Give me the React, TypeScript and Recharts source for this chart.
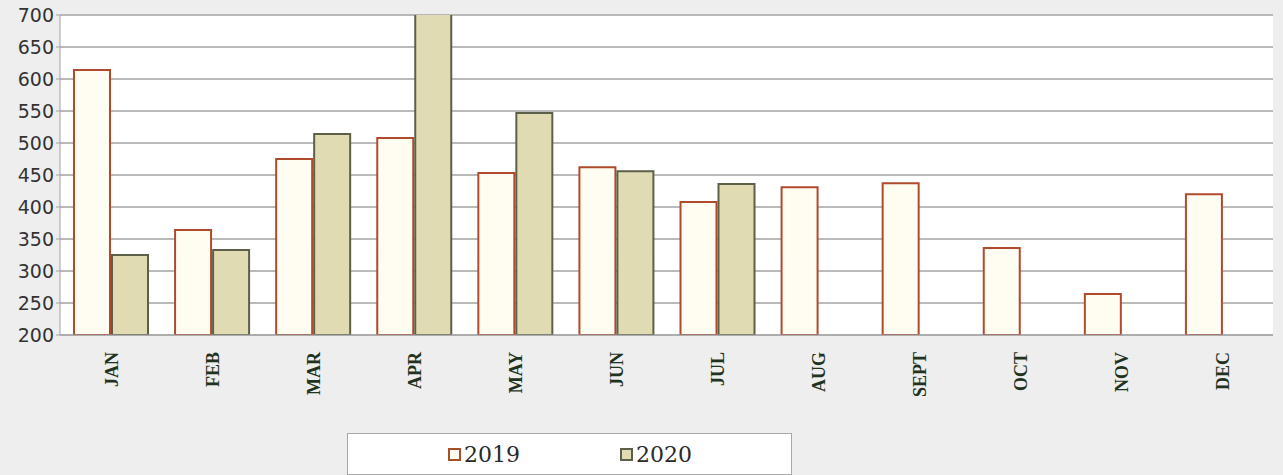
import React from 'react';
import {
  BarChart,
  Bar,
  XAxis,
  YAxis,
  CartesianGrid,
  Legend,
} from 'recharts';

document.body.style.margin = '0';

const MONTHS = ['JAN', 'FEB', 'MAR', 'APR', 'MAY', 'JUN', 'JUL', 'AUG', 'SEPT', 'OCT', 'NOV', 'DEC'];
const SALES_2019 = [614, 364, 475, 508, 453, 462, 408, 431, 437, 336, 264, 420];
const SALES_2020 = [325, 333, 514, 720, 547, 456, 436, null, null, null, null, null];
const Y_TICKS = [200, 250, 300, 350, 400, 450, 500, 550, 600, 650, 700];

const data = MONTHS.map((m, i) => ({
  month: m,
  y2019: SALES_2019[i],
  y2020: SALES_2020[i],
}));

const MonthTick = ({ x, y, payload }: { x?: number; y?: number; payload?: { value: string } }) => (
  <text
    x={0}
    y={0}
    transform={`translate(${(x ?? 0) + 7},${(y ?? 0) + 9}) rotate(-90)`}
    textAnchor="end"
    fill="#1f3320"
    fontFamily="'Liberation Serif', 'DejaVu Serif', serif"
    fontWeight="bold"
    fontSize={18}
  >
    {payload?.value}
  </text>
);

const LegendBox = () => (
  <div
    style={{
      width: 445,
      height: 42,
      background: '#fff',
      border: '1px solid #a8a8a8',
      boxSizing: 'border-box',
      display: 'flex',
      alignItems: 'center',
      fontFamily: "'DejaVu Serif', serif",
      fontSize: 22,
      color: '#2a2a2a',
    }}
  >
    <span style={{ marginLeft: 100, display: 'flex', alignItems: 'center' }}>
      <span style={{ width: 9, height: 9, border: '2px solid #a8502a', background: '#fffdf2', marginRight: 3 }} />
      2019
    </span>
    <span style={{ marginLeft: 100, display: 'flex', alignItems: 'center' }}>
      <span style={{ width: 9, height: 9, border: '2px solid #5d6048', background: '#e0dbb2', marginRight: 3 }} />
      2020
    </span>
  </div>
);

export default function App() {
  return (
    <div style={{ width: 1283, height: 475, background: '#eeeeee', position: 'relative' }}>
      <BarChart
        width={1283}
        height={475}
        data={data}
        margin={{ top: 15, right: 10, bottom: 0, left: 0 }}
        barSize={36}
        barGap={2}
      >
        <CartesianGrid vertical={false} stroke="#a3a3a3" fill="#ffffff" strokeWidth={1.5} />
        <XAxis
          dataKey="month"
          height={98}
          stroke="#a3a3a3"
          tickLine={false}
          interval={0}
          tick={<MonthTick />}
        />
        <YAxis
          domain={[200, 700]}
          ticks={Y_TICKS}
          allowDataOverflow
          width={60}
          stroke="#a3a3a3"
          tickSize={4}
          tick={{ fill: '#333', fontSize: 19, fontFamily: "'DejaVu Sans', sans-serif" }}
        />
        <Legend
          content={<LegendBox />}
          wrapperStyle={{ left: 347, top: 433, width: 445, bottom: 'auto' }}
        />
        <Bar dataKey="y2019" fill="#fffdf2" stroke="#b04a2c" strokeWidth={2} isAnimationActive={false} />
        <Bar dataKey="y2020" fill="#e0dbb2" stroke="#5d6048" strokeWidth={2} isAnimationActive={false} />
      </BarChart>
    </div>
  );
}
